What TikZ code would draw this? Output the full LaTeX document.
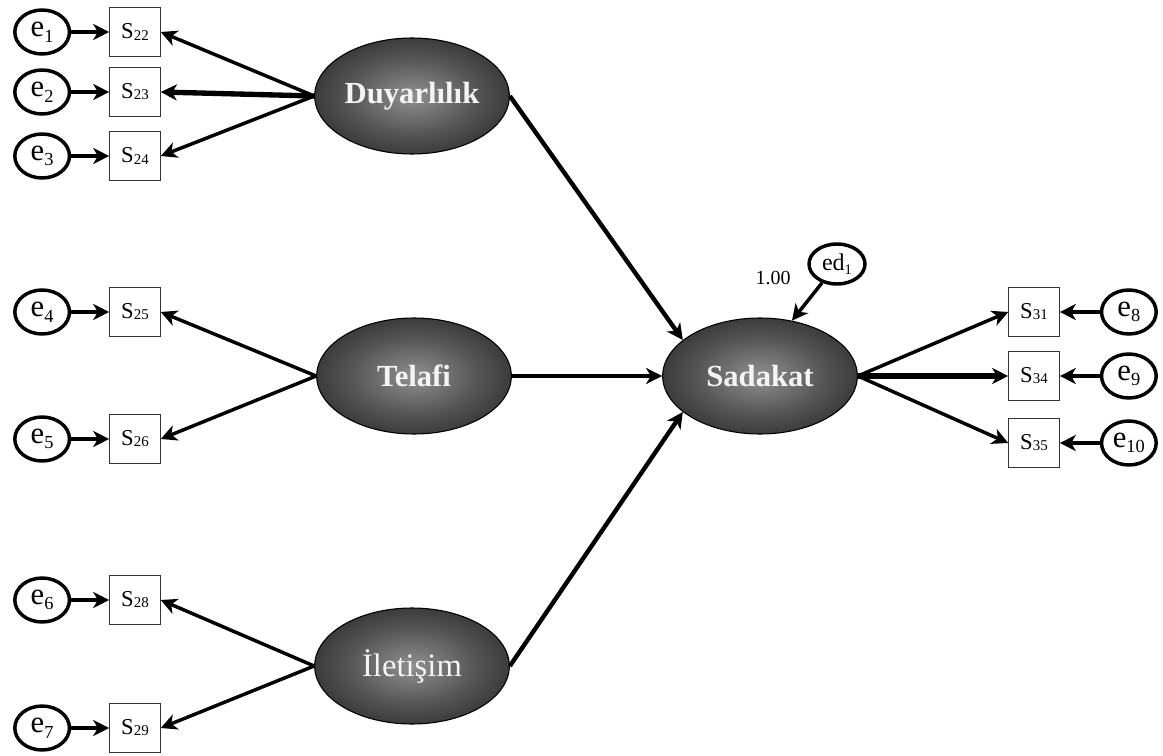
\documentclass[tikz,border=0pt]{standalone}
\usepackage{fontspec}
\setmainfont{Liberation Serif}
\usepackage{tikz}
\usetikzlibrary{arrows.meta,positioning,shapes.geometric}
\definecolor{latgris}{HTML}{909090}
\definecolor{texteB}{HTML}{F4F4F4}
\pgfdeclareradialshading{latglow}{\pgfpoint{0bp}{0bp}}{%
  color(0bp)=(latgris); color(16bp)=(black!66); color(38bp)=(black!92); color(50bp)=(black)}
\newcommand{\ix}[1]{\raisebox{-0.4ex}{\scalebox{0.6}{#1}}}
\newcommand{\sx}[1]{\raisebox{-0.1ex}{\scalebox{0.66}{#1}}}
\tikzset{
  lat/.style={ellipse, draw=black, line width=0.8pt, shading=latglow, minimum width=146pt,
              minimum height=87pt, inner sep=0pt, text=texteB,
              font=\fontsize{23}{26}\selectfont\bfseries},
  ind/.style={rectangle, draw=black!80, line width=0.7pt, fill=white, minimum width=38pt,
              minimum height=37pt, inner sep=0pt, font=\fontsize{17}{19}\selectfont},
  err/.style={ellipse, draw=black, line width=2.6pt, fill=white, minimum width=41pt,
              minimum height=33pt, inner sep=0pt, font=\fontsize{23}{26}\selectfont},
  arr/.style={-{Stealth[length=12pt, width=12pt, inset=3.5pt]}, line width=2.6pt},
  arrb/.style={arr, line width=4pt},
  arrs/.style={arr, line width=3.3pt},
}

\begin{document}
\begin{tikzpicture}[x=0.75pt, y=-0.75pt]
  \useasboundingbox (0,0) rectangle (1163,756);
  % latent variables
  \node[lat] (duy) at (412,96) {Duyarlılık};
  \node[lat] (tel) at (414,376) {Telafi};
  \node[lat, font=\fontsize{24.5}{26}\selectfont] (ilt) at (412,666) {İletişim};
  \node[lat] (sad) at (760,376) {Sadakat};
  % observed items
  \foreach \n/\y in {22/32, 23/92, 24/156, 25/312, 26/439, 28/600, 29/728}
    \node[ind] (s\n) at (135,\y) {S\sx{\n}};
  \foreach \n/\y in {31/312, 34/376, 35/443}
    \node[ind] (s\n) at (1034,\y) {S\sx{\n}};
  % error terms
  \foreach \i/\n in {1/22, 2/23, 3/24, 4/25, 5/26, 6/28, 7/29}
    \node[err, left=28.5pt of s\n] (e\i) {e\ix{\i}};
  \foreach \i/\n in {8/31, 9/34, 10/35}
    \node[err, right=30pt of s\n] (e\i) {e\ix{\i}};
  \node[err, minimum width=42pt, minimum height=30pt, font=\fontsize{18}{20}\selectfont]
    (ed1) at (837,264) {ed\ix{1}};
  \node[font=\fontsize{15}{17}\selectfont] (fix) at (773,278) {1.00};
  % loadings
  \foreach \n in {22,24} \draw[arr] (duy.west) -- (s\n.east);
  \draw[arrb] (duy.west) -- (s23.east);
  \foreach \n in {25,26} \draw[arr] (tel.west) -- (s\n.east);
  \foreach \n in {28,29} \draw[arr] (ilt.west) -- (s\n.east);
  \foreach \n in {31,35} \draw[arr] (sad.east) -- (s\n.west);
  \draw[arrb] (sad.east) -- (s34.west);
  % errors
  \foreach \i/\n in {1/22, 2/23, 3/24, 4/25, 5/26, 6/28, 7/29, 8/31, 9/34, 10/35}
    \draw[arr] (e\i) -- (s\n);
  % structural paths
  \draw[arrs] (duy.east) -- (sad.155);
  \draw[arrs] (tel.east) -- (sad.west);
  \draw[arrs] (ilt.east) -- (sad.205);
  \draw[arr] (ed1) -- (sad.60);
\end{tikzpicture}
\end{document}
